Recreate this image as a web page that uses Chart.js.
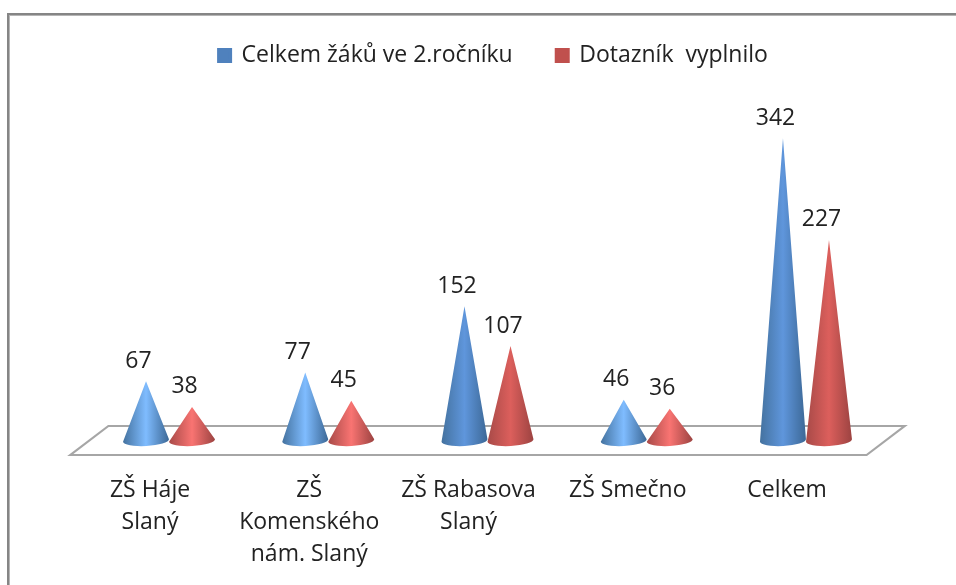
<!DOCTYPE html>
<html><head><meta charset="utf-8">
<style>html,body{margin:0;padding:0;background:#fff}canvas{display:block}</style>
<script src="https://cdn.jsdelivr.net/npm/chart.js@4"></script></head>
<body><div style="width:956px;height:585px"><canvas id="c" width="956" height="585"></canvas></div>
<script>
const categories = [["ZŠ Háje","Slaný"],["ZŠ","Komenského","nám. Slaný"],["ZŠ Rabasova","Slaný"],["ZŠ Smečno"],["Celkem"]];
const seriesNames = ["Celkem žáků ve 2.ročníku","Dotazník  vyplnilo"];
const totalPupils = [67,77,152,46,342];
const answered = [38,45,107,36,227];
const FONT = '"Open Sans", sans-serif';
const TEXT = '#222222';

const SHADES = {
  '#4f81bd': {edgeL:'#44729f', edgeR:'#3c6896', mid:'#5f96dc', midShort:'#7fbcff'},
  '#c0504d': {edgeL:'#a84a48', edgeR:'#9c4341', mid:'#dc5f5c', midShort:'#f97472'}
};
// Each bar element is painted as a cone standing on the floor
Chart.BarElement.prototype.draw = function(ctx){
  const o = this.options, s = SHADES[o.backgroundColor];
  const cx = this.x, top = this.y, base = this.base, hw = this.width/2, ry = 5.5, tilt = -0.055;
  const h = base-top;
  const g = ctx.createLinearGradient(cx-hw,0,cx+hw,0);
  g.addColorStop(0,s.edgeL);
  g.addColorStop(.5, h<90 ? s.midShort : s.mid);
  g.addColorStop(1,s.edgeR);
  ctx.save();
  ctx.fillStyle = g;
  ctx.beginPath();
  ctx.moveTo(cx,top);
  ctx.lineTo(cx+hw*Math.cos(tilt), base+hw*Math.sin(tilt));
  ctx.ellipse(cx,base,hw,ry,tilt,0,Math.PI);
  ctx.closePath();
  ctx.fill();
  ctx.restore();
};

const framePlugin = {
  id:'frame',
  beforeDraw(chart){
    const c = chart.ctx;
    c.save();
    c.fillStyle='#fff'; c.fillRect(0,0,chart.width,chart.height);
    c.fillStyle='#858585';
    c.fillRect(7,13,chart.width-7,2);
    c.fillRect(7,13,2,chart.height-13);
    c.fillStyle='#b5b5b5';
    c.fillRect(9,15,chart.width-9,1);
    c.fillRect(9,15,1,chart.height-15);
    c.restore();
  }
};
const floorPlugin = {
  id:'floor',
  beforeDatasetsDraw(chart){
    const c = chart.ctx, x = chart.scales.x, y0 = chart.scales.y.getPixelForValue(0);
    const d = 19, dy = 14.5;
    c.save();
    c.strokeStyle='#a6a6a6'; c.lineWidth=2.2;
    c.beginPath();
    c.moveTo(x.left-d,y0+dy); c.lineTo(x.right-d,y0+dy);
    c.lineTo(x.right+d,y0-dy); c.lineTo(x.left+d,y0-dy); c.closePath();
    c.stroke();
    c.restore();
  }
};
const valueLabels = {
  id:'valueLabels',
  afterDatasetsDraw(chart){
    const c = chart.ctx;
    c.save();
    c.font = '23px '+FONT; c.fillStyle = TEXT; c.textAlign='center'; c.textBaseline='middle';
    chart.data.datasets.forEach((ds,i)=>{
      chart.getDatasetMeta(i).data.forEach((el,j)=>{
        c.fillText(String(ds.data[j]), el.x-7.5, el.y-20);
      });
    });
    c.restore();
  }
};

new Chart(document.getElementById('c'),{
  type:'bar',
  data:{labels:categories,datasets:[
    {label:seriesNames[0],data:totalPupils,backgroundColor:'#4f81bd',borderColor:'#4f81bd',borderWidth:4,clip:false},
    {label:seriesNames[1],data:answered,backgroundColor:'#c0504d',borderColor:'#c0504d',borderWidth:4,clip:false}
  ]},
  plugins:[framePlugin,floorPlugin,valueLabels],
  options:{
    responsive:false,animation:false,
    layout:{padding:{left:31,right:0,top:0,bottom:0}},
    datasets:{bar:{barPercentage:1,categoryPercentage:0.578}},
    plugins:{
      title:{display:false},tooltip:{enabled:false},
      legend:{display:true,position:'top',labels:{boxWidth:11,boxHeight:11,padding:44,color:TEXT,font:{family:FONT,size:23}}}
    },
    scales:{
      x:{grid:{display:false},border:{display:false},
         ticks:{autoSkip:false,maxRotation:0,minRotation:0,padding:26,labelOffset:-19,color:TEXT,
                font:{family:FONT,size:23,lineHeight:1.39}},
         afterFit(s){s.height=144.5;}},
      y:{min:0,max:411.4,display:true,grid:{display:false},border:{display:false},ticks:{display:false},
         afterFit(s){s.width=58.4;}},
      y2:{position:'right',display:true,grid:{display:false},border:{display:false},ticks:{display:false},
         afterFit(s){s.width=70.4;}}
    }
  }
});
</script></body></html>
